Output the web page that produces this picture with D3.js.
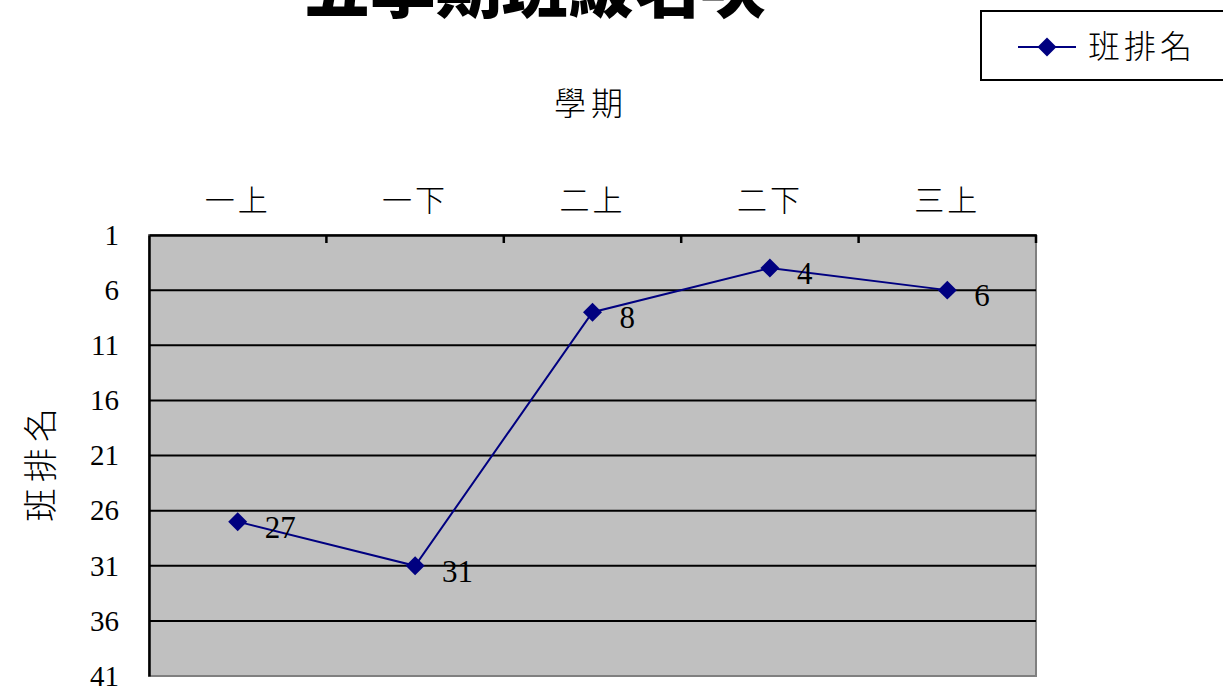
<!DOCTYPE html>
<html><head><meta charset="utf-8">
<script src="https://cdn.jsdelivr.net/npm/d3@7"></script>
<style>body{margin:0;background:#fff}svg{display:block}</style>
</head><body>
<script>
const categories = ["一上","一下","二上","二下","三上"];
const ranks = [27,31,8,4,6];
const yTicks = [1,6,11,16,21,26,31,36,41];
const seriesName = "班排名";
const title = "五學期班級名次";
const xTitle = "學期";
const yTitle = "班排名";

const W=1223,H=691;
const svg=d3.select("body").append("svg").attr("width",W).attr("height",H);
const L=149,R=1036,T=235,B=676;
const x=d3.scaleBand().domain(categories).range([L,R]);
const y=d3.scaleLinear().domain([1,41]).range([T,B]);
const serif="'Liberation Serif','Times New Roman',serif";
const cjk="'Noto Sans CJK TC','Noto Sans CJK SC',sans-serif";

svg.append("rect").attr("x",L).attr("y",T).attr("width",R-L).attr("height",B-T)
  .attr("fill","#c0c0c0").attr("stroke","#808080").attr("stroke-width",2);
// gridlines
svg.append("g").selectAll("line").data(yTicks.slice(1,-1)).join("line")
  .attr("x1",L).attr("x2",R).attr("y1",d=>y(d)).attr("y2",d=>y(d))
  .attr("stroke","#000").attr("stroke-width",2);
// top axis
const xa=svg.append("g").attr("transform",`translate(0,${T})`)
  .call(d3.axisTop(x).tickSize(0).tickPadding(24));
xa.select(".domain").attr("stroke","#000").attr("stroke-width",2.5);
xa.selectAll("text").attr("font-family",cjk).attr("font-size",30).attr("letter-spacing",3)
  .attr("font-weight",300).attr("fill","#000");
svg.append("g").selectAll("line").data(categories).join("line")
  .attr("x1",d=>x(d)+x.bandwidth()).attr("x2",d=>x(d)+x.bandwidth())
  .attr("y1",T).attr("y2",T+8).attr("stroke","#000").attr("stroke-width",2.5);
// left axis
const ya=svg.append("g").attr("transform",`translate(${L},0)`)
  .call(d3.axisLeft(y).tickValues(yTicks).tickSize(0).tickPadding(30));
ya.select(".domain").attr("stroke","#000").attr("stroke-width",2.5);
ya.selectAll("text").attr("font-family",serif).attr("font-size",29).attr("fill","#000");

// line
const px=d=>x(d)+x.bandwidth()/2;
const pts=categories.map((c,i)=>({c,v:ranks[i]}));
svg.append("path").datum(pts).attr("fill","none").attr("stroke","#000080").attr("stroke-width",2)
  .attr("d",d3.line().x(d=>px(d.c)).y(d=>y(d.v)));
const diamond=d3.symbol().type(d3.symbolDiamond2).size(230);
svg.append("g").selectAll("path").data(pts).join("path")
  .attr("transform",d=>`translate(${px(d.c)},${y(d.v)})`).attr("d",diamond).attr("fill","#000080");
svg.append("g").selectAll("text").data(pts).join("text")
  .attr("x",d=>px(d.c)+27).attr("y",d=>y(d.v)+16)
  .attr("font-family",serif).attr("font-size",31).attr("fill","#000").text(d=>d.v);

// titles
svg.append("text").attr("x",535).attr("y",12).attr("text-anchor","middle")
  .attr("font-family",cjk).attr("font-weight",900).attr("font-size",66).text(title);
svg.append("text").attr("x",591).attr("y",115).attr("text-anchor","middle")
  .attr("font-family",cjk).attr("font-size",32).attr("font-weight",300).attr("letter-spacing",5).text(xTitle);
svg.append("text").attr("transform","translate(53,462) rotate(-90)").attr("text-anchor","middle")
  .attr("font-family",cjk).attr("font-size",34).attr("font-weight",300).attr("letter-spacing",6).text(yTitle);

// legend
const lg=svg.append("g");
lg.append("rect").attr("x",981).attr("y",11).attr("width",260).attr("height",69)
  .attr("fill","#fff").attr("stroke","#000").attr("stroke-width",2);
lg.append("line").attr("x1",1018).attr("x2",1076).attr("y1",47).attr("y2",47).attr("stroke","#000080").attr("stroke-width",2);
lg.append("path").attr("transform","translate(1047,47)").attr("d",diamond).attr("fill","#000080");
lg.append("text").attr("x",1088).attr("y",58).attr("font-family",cjk).attr("font-size",32)
  .attr("font-weight",300).attr("letter-spacing",4).text(seriesName);
</script>
</body></html>
